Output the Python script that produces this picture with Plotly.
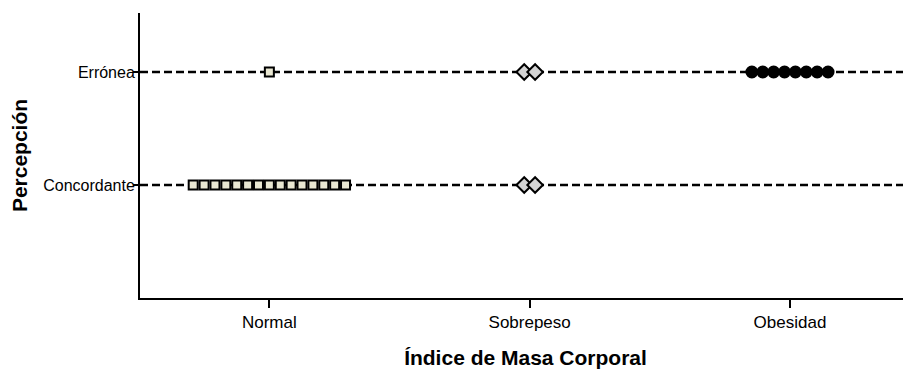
import plotly.graph_objects as go

# categories
imc_categories = ["Normal", "Sobrepeso", "Obesidad"]
perception_categories = ["Concordante", "Errónea"]

# counts of cases per (IMC category, perception) — each dot is one case
counts_concordante = [15, 2, 0]
counts_erronea = [1, 2, 8]

# marker styles per IMC category
symbols = ["square", "diamond", "circle"]
fills = ["#e9e7d2", "#d4d4d4", "#000000"]
sizes = [9, 12, 11]

step = 0.0418  # stacking offset between adjacent dots (x units)

fig = go.Figure()

for yi, counts in enumerate([counts_concordante, counts_erronea]):
    for ci, n in enumerate(counts):
        if n == 0:
            continue
        xs = [ci + (k - (n - 1) / 2) * step for k in range(n)]
        ys = [yi] * n
        fig.add_trace(go.Scatter(
            x=xs, y=ys, mode="markers",
            marker=dict(symbol=symbols[ci], color=fills[ci], size=sizes[ci],
                        line=dict(color="black", width=2)),
            showlegend=False, hoverinfo="skip"))

for yi in range(len(perception_categories)):
    fig.add_shape(type="line", xref="paper", x0=0, x1=1, yref="y", y0=yi, y1=yi,
                  line=dict(color="black", width=2.5, dash="8px,4px"), layer="below")

font = "Liberation Sans, Arial, sans-serif"

# page body has an 8px default margin, so the figure is sized to fit the window
fig.update_layout(
    width=903, height=366,
    margin=dict(l=132, r=0, t=5, b=76, autoexpand=False),
    plot_bgcolor="white", paper_bgcolor="white",
    xaxis=dict(
        range=[-0.497, 2.465], automargin=False,
        tickvals=list(range(len(imc_categories))), ticktext=imc_categories,
        showgrid=False, zeroline=False,
        showline=True, linecolor="black", linewidth=2,
        ticks="outside", ticklen=8, tickwidth=2, tickcolor="black",
        tickfont=dict(family=font, size=17, color="black"),
        title=dict(text="<b>Índice de Masa Corporal</b>",
                   font=dict(family=font, size=21, color="black"), standoff=19),
    ),
    yaxis=dict(
        range=[-1.0, 1.522], automargin=False,
        tickvals=list(range(len(perception_categories))), ticktext=perception_categories,
        showgrid=False, zeroline=False,
        showline=True, linecolor="black", linewidth=2,
        ticks="outside", ticklen=5, tickwidth=2, tickcolor="black",
        ticklabelstandoff=-5,
        tickfont=dict(family=font, size=16, color="black"),
        title=dict(text="<b>Percepción</b>",
                   font=dict(family=font, size=21, color="black"), standoff=15),
    ),
)

fig.write_html("out.html")
